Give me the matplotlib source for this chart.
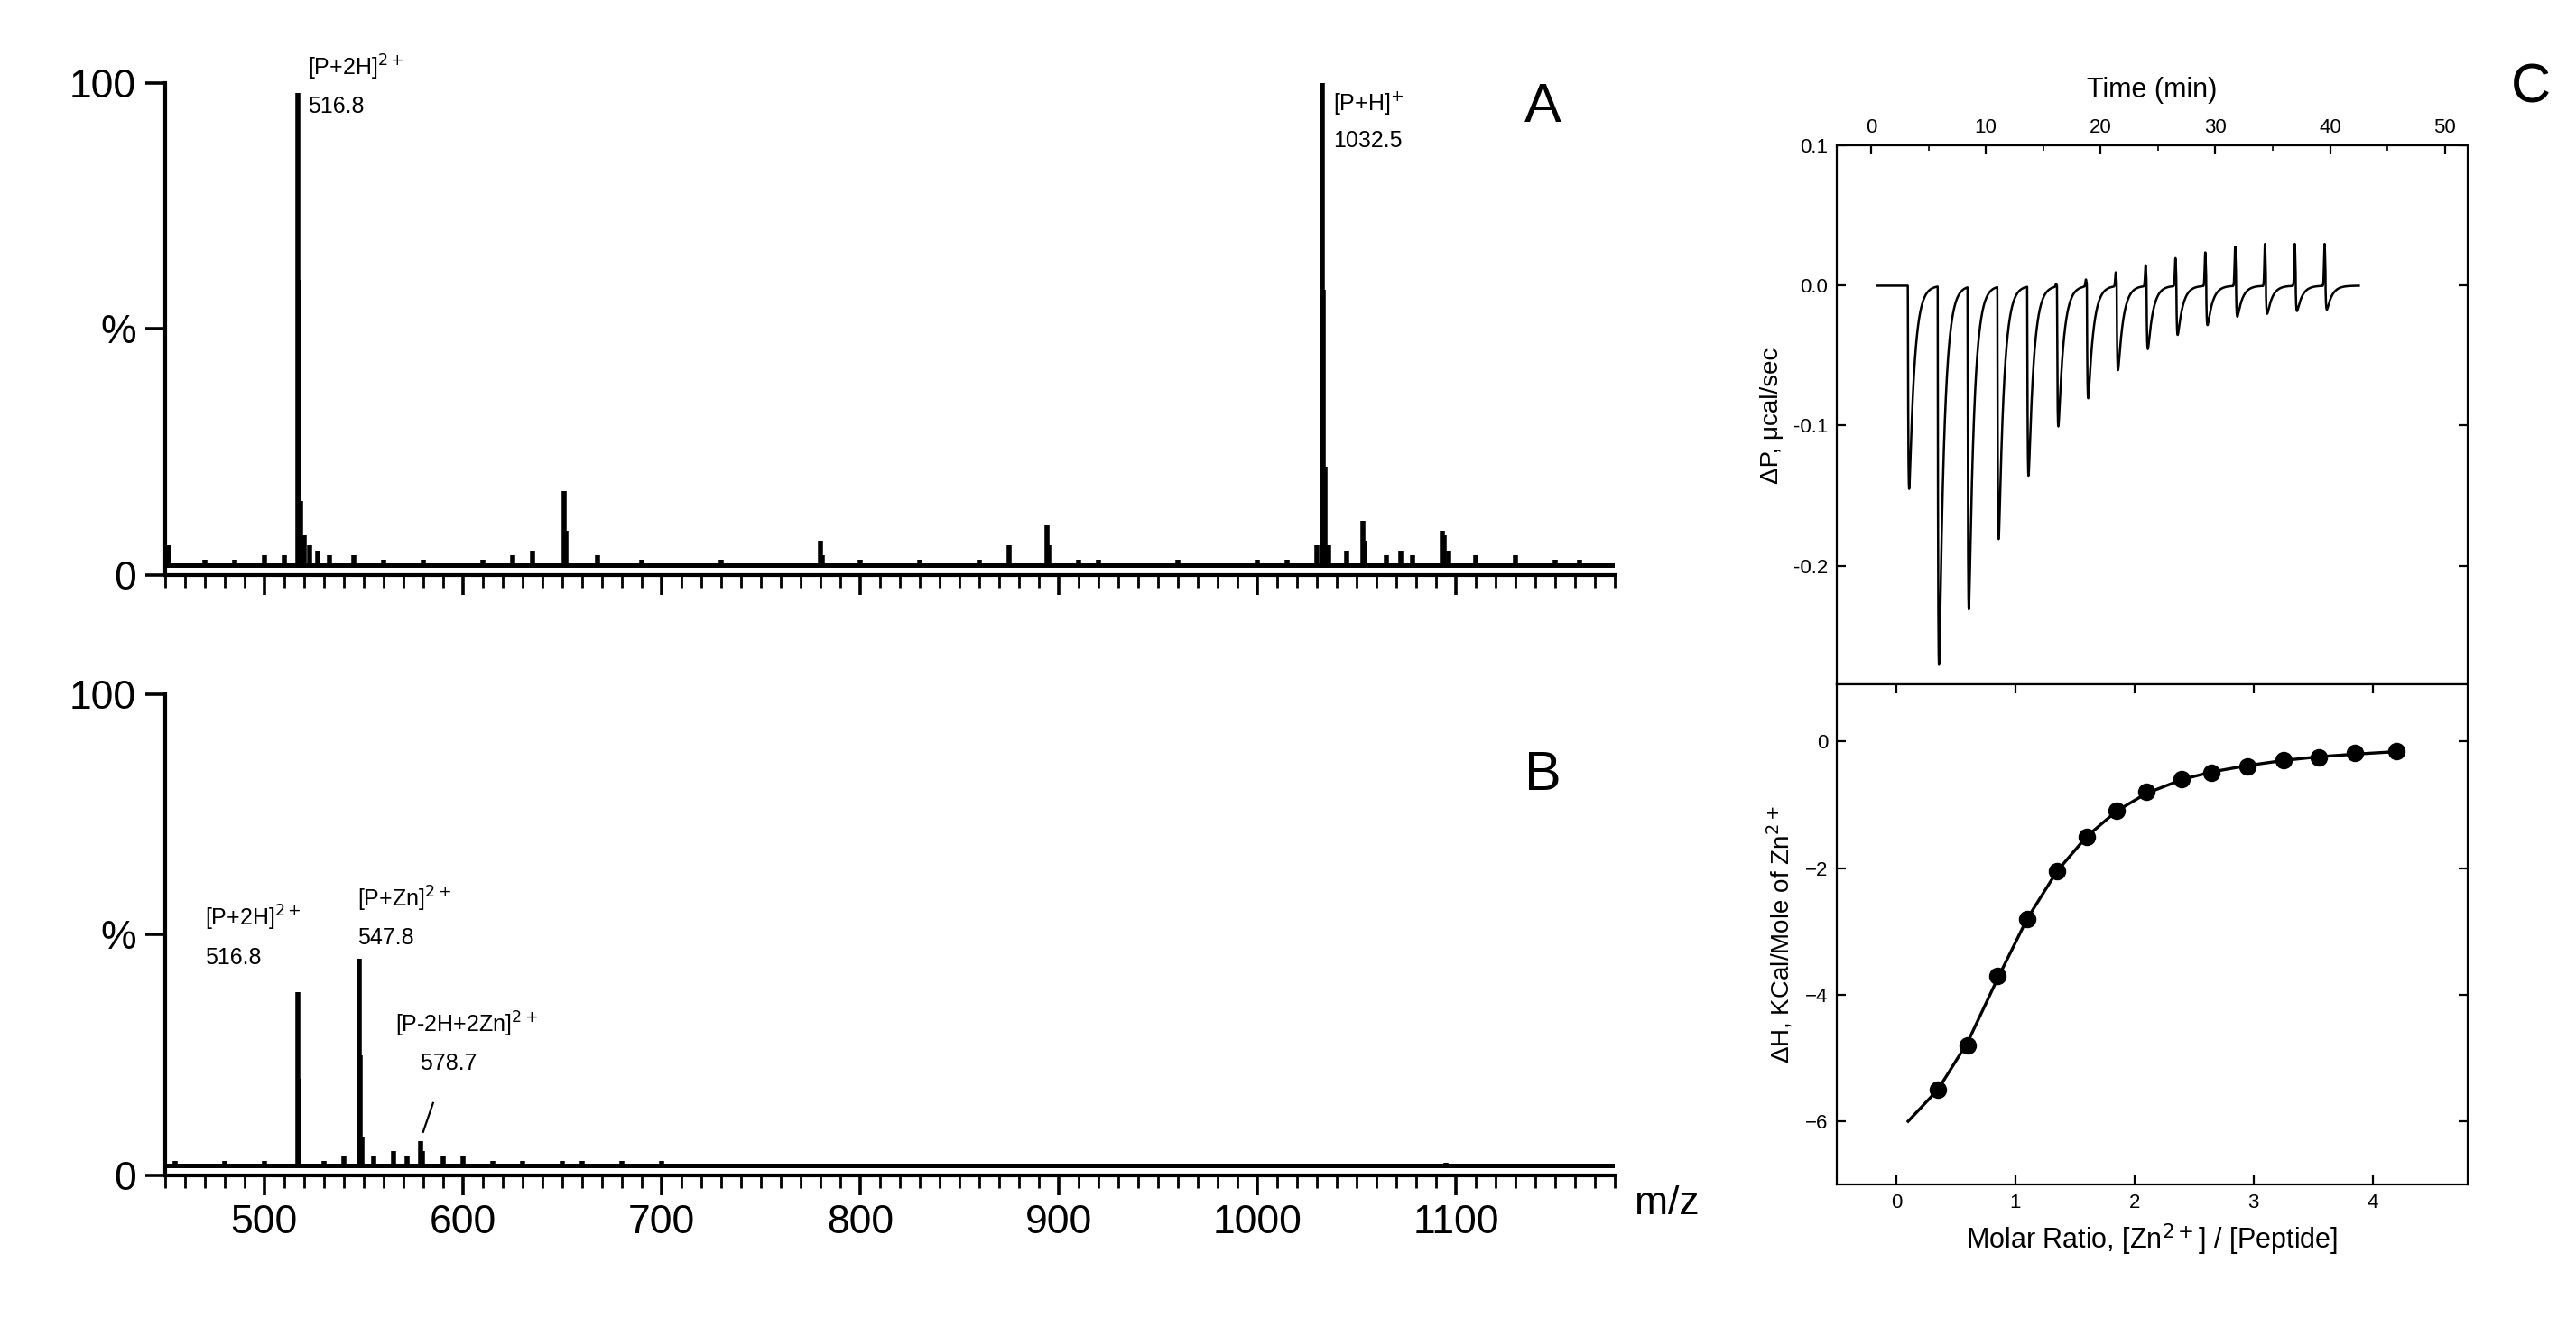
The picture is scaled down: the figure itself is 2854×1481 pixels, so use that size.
import numpy as np
import matplotlib
matplotlib.use("Agg")
import matplotlib.pyplot as plt

plt.rcParams['font.family'] = ['Liberation Sans', 'DejaVu Sans']

# ---- data ----
msA_mz = [452, 470, 485, 500, 510, 516.8, 517.3, 518.2, 520, 523, 527, 533, 545, 560, 580, 610, 625, 635, 651, 652, 668, 690, 730, 780, 781, 800, 830, 860, 875, 894, 895, 910, 920, 960, 1000, 1015, 1030, 1032.5, 1033.2, 1034, 1036, 1045, 1053, 1054, 1065, 1072, 1078, 1093, 1094, 1096, 1110, 1130, 1150, 1162]
msA_int = [6, 3, 3, 4, 4, 98, 60, 15, 8, 6, 5, 4, 4, 3, 3, 3, 4, 5, 17, 9, 4, 3, 3, 7, 4, 3, 3, 3, 6, 10, 6, 3, 3, 3, 3, 3, 6, 100, 58, 22, 6, 5, 11, 7, 4, 5, 4, 9, 8, 5, 4, 4, 3, 3]
msB_mz = [455, 480, 500, 516.8, 517.3, 530, 540, 547.8, 548.4, 549.2, 555, 565, 572, 578.7, 579.6, 590, 600, 615, 630, 650, 660, 680, 700, 1095]
msB_int = [3, 3, 3, 38, 20, 3, 4, 45, 25, 8, 4, 5, 4, 7, 5, 4, 4, 3, 3, 3, 3, 3, 3, 2.5]
ms_base = 2.0

inj_time = [3.2, 5.8, 8.4, 11.0, 13.6, 16.2, 18.8, 21.4, 24.0, 26.6, 29.2, 31.8, 34.4, 37.0, 39.6]
inj_depth = [-0.145, -0.27, -0.23, -0.18, -0.135, -0.10, -0.08, -0.06, -0.045, -0.035, -0.028, -0.022, -0.02, -0.018, -0.017]
inj_over = [0.0, 0.0, 0.0, 0.0, 0.0, 0.002, 0.005, 0.01, 0.015, 0.02, 0.024, 0.028, 0.03, 0.03, 0.03]

ratio = [0.35, 0.6, 0.85, 1.1, 1.35, 1.6, 1.85, 2.1, 2.4, 2.65, 2.95, 3.25, 3.55, 3.85, 4.2]
dH = [-5.5, -4.8, -3.7, -2.8, -2.05, -1.5, -1.1, -0.8, -0.6, -0.5, -0.4, -0.3, -0.25, -0.18, -0.15]
fit_x = [0.1, 0.35, 0.6, 0.85, 1.1, 1.35, 1.6, 1.85, 2.1, 2.4, 2.65, 2.95, 3.25, 3.55, 3.85, 4.2]
fit_y = [-6.0, -5.5, -4.75, -3.75, -2.8, -2.05, -1.5, -1.1, -0.82, -0.6, -0.48, -0.38, -0.3, -0.24, -0.2, -0.16]

fig = plt.figure(figsize=(14.27, 7.405), dpi=200)

def ms_axes(rect, mz, inten, show_x):
    ax = fig.add_axes(rect)
    ax.plot([450, 1180], [ms_base, ms_base], color='k', lw=1.8)
    ax.vlines(mz, ms_base, inten, color='k', lw=2.0)
    ax.set_xlim(450, 1180)
    ax.set_ylim(0, 100)
    for s in ['top', 'right']:
        ax.spines[s].set_visible(False)
    ax.spines['left'].set_linewidth(1.5)
    ax.spines['bottom'].set_linewidth(1.5)
    ax.set_yticks([0, 50, 100])
    ax.set_yticklabels(['0', '%', '100'], fontsize=16)
    ax.set_xticks(range(500, 1101, 100))
    ax.set_xticks(range(450, 1181, 10), minor=True)
    ax.tick_params(axis='x', which='major', length=8, width=1.3, direction='out')
    ax.tick_params(axis='x', which='minor', length=5, width=1.0, direction='out')
    ax.tick_params(axis='y', length=8, width=1.3)
    if show_x:
        ax.set_xticklabels([str(v) for v in range(500, 1101, 100)], fontsize=16)
    else:
        ax.set_xticklabels([])
    return ax

axA = ms_axes([0.064, 0.570, 0.563, 0.368], msA_mz, msA_int, False)
axA.text(0.95, 0.92, 'A', transform=axA.transAxes, fontsize=22, ha='center')
axA.text(522, 93, '[P+2H]$^{2+}$\n516.8', fontsize=9, va='bottom', linespacing=1.8)
axA.text(1038, 86, '[P+H]$^{+}$\n1032.5', fontsize=9, va='bottom', linespacing=1.8)

axB = ms_axes([0.064, 0.121, 0.563, 0.360], msB_mz, msB_int, True)
axB.text(0.95, 0.80, 'B', transform=axB.transAxes, fontsize=22, ha='center')
axB.text(470, 43, '[P+2H]$^{2+}$\n516.8', fontsize=9, va='bottom', linespacing=1.8)
axB.text(547, 47, '[P+Zn]$^{2+}$\n547.8', fontsize=9, va='bottom', linespacing=1.8)
axB.text(566, 21, '[P-2H+2Zn]$^{2+}$\n    578.7', fontsize=9, va='bottom', linespacing=1.8)
axB.plot([580, 585], [9, 15], color='k', lw=0.8)
axB.text(1190, -6, 'm/z', fontsize=16, va='center', ha='left', clip_on=False)

# ITC raw
axC1 = fig.add_axes([0.713, 0.488, 0.245, 0.403])
t = np.linspace(0.5, 42.5, 6000)
y = np.zeros_like(t)
tau1, tau2 = 0.05, 0.45
tpk = tau1 * tau2 / (tau2 - tau1) * np.log(tau2 / tau1)
norm = (1 - np.exp(-tpk / tau1)) * np.exp(-tpk / tau2)
for ti, d, o in zip(inj_time, inj_depth, inj_over):
    dt = t - ti
    m = dt >= 0
    y[m] += d / norm * (1 - np.exp(-dt[m] / tau1)) * np.exp(-dt[m] / tau2)
    m2 = (dt >= -0.25) & (dt < 0)
    y[m2] += o * np.exp(-((dt[m2] + 0.08) / 0.07) ** 2)
axC1.plot(t, y, color='k', lw=0.9)
axC1.set_xlim(-3, 52)
axC1.set_ylim(-0.285, 0.1)
axC1.xaxis.tick_top()
axC1.xaxis.set_label_position('top')
axC1.set_xticks(range(0, 51, 10))
axC1.set_xticks(range(0, 51, 5), minor=True)
axC1.set_xlabel('Time (min)', fontsize=11, labelpad=8)
axC1.set_yticks([0.1, 0.0, -0.1, -0.2])
axC1.set_yticklabels(['0.1', '0.0', '-0.1', '-0.2'])
axC1.set_ylabel('ΔP, μcal/sec', fontsize=10)
axC1.tick_params(labelsize=8, direction='in', top=True, right=True)
axC1.tick_params(which='minor', direction='in', top=True)
axC1.text(1.1, 1.08, 'C', transform=axC1.transAxes, fontsize=22, ha='center')

# ITC integrated
axC2 = fig.add_axes([0.713, 0.114, 0.245, 0.374])
axC2.plot(fit_x, fit_y, color='k', lw=1.2)
axC2.plot(ratio, dH, 'o', color='k', ms=6)
axC2.set_xlim(-0.5, 4.8)
axC2.set_ylim(-7, 0.9)
axC2.set_xticks([0, 1, 2, 3, 4])
axC2.set_yticks([0, -2, -4, -6])
axC2.set_xlabel('Molar Ratio, [Zn$^{2+}$] / [Peptide]', fontsize=11)
axC2.set_ylabel('ΔH, KCal/Mole of Zn$^{2+}$', fontsize=10)
axC2.tick_params(labelsize=8, direction='in', right=True, top=True)

fig.savefig('out.png', dpi=200)
